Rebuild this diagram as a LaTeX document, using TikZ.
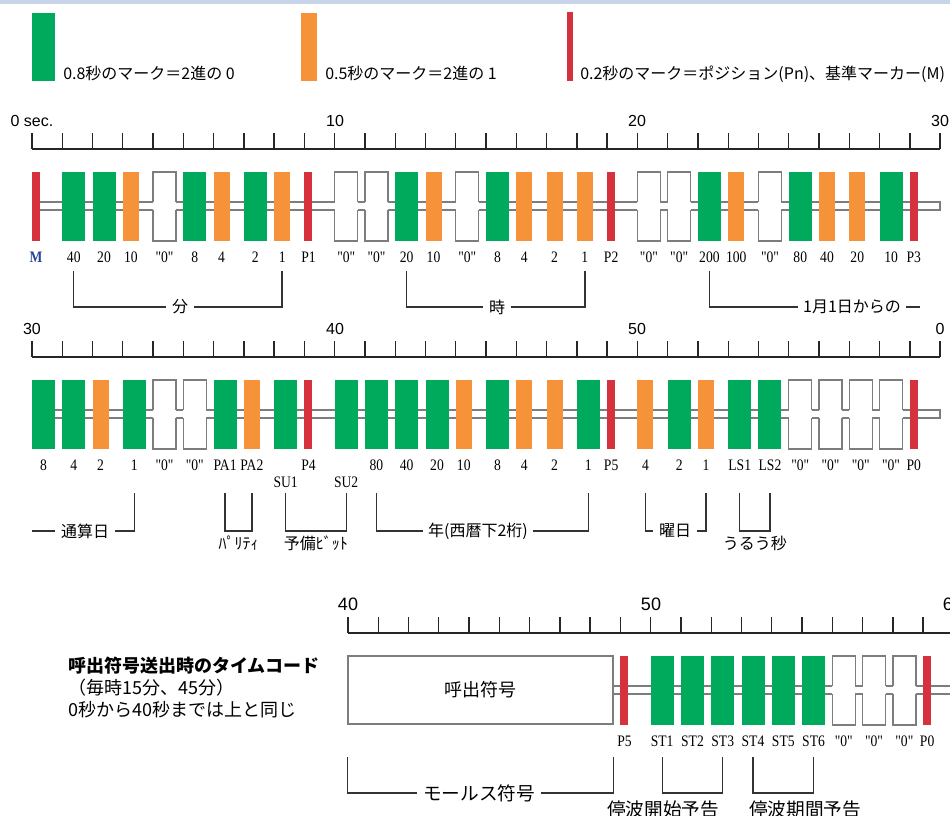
\documentclass[tikz,border=0pt]{standalone}
\usepackage{fontspec}
\setmainfont{Noto Sans CJK JP}
\newfontfamily\lblfont[FakeStretch=0.85]{Liberation Serif}
\newfontfamily\numfont{Liberation Sans}

\definecolor{bitgreen}{RGB}{0,170,92}
\definecolor{bitorange}{RGB}{246,146,58}
\definecolor{bitred}{RGB}{214,50,62}
\definecolor{bandgray}{RGB}{125,125,125}
\definecolor{topblue}{RGB}{200,212,234}
\definecolor{mblue}{RGB}{40,68,150}

\newcommand{\secpx}{30.27}
\newcommand{\mlab}{\textcolor{mblue}{\bfseries M}}

\tikzset{
  lbl/.style={font=\lblfont\fontsize{12}{14}\selectfont, inner sep=0pt},
  rlbl/.style={font=\numfont\fontsize{12}{14}\selectfont, inner sep=0pt},
  rlblbig/.style={font=\numfont\fontsize{13.5}{16}\selectfont, inner sep=0pt},
  ruler/.style={draw=black!85, line width=1pt},
  band/.style={draw=bandgray, line width=1pt},
  brkline/.style={draw=black!80, line width=1pt},
  leg/.style={anchor=base west, inner sep=0pt, font=\fontsize{12}{14}\selectfont},
  brk/.style={fill=white, inner xsep=4pt, inner ysep=1pt, font=\fontsize{12}{14}\selectfont},
  brkbig/.style={brk, font=\fontsize{14}{17}\selectfont},
  undertxt/.style={inner sep=0pt, font=\fontsize{12}{14}\selectfont},
  undertxtbig/.style={inner sep=0pt, font=\fontsize{14}{17}\selectfont},
  sidetxt/.style={anchor=base west, inner sep=0pt, font=\fontsize{13.5}{16}\selectfont},
  csbox/.style={draw=bandgray, line width=1pt, minimum width=198.75pt, minimum height=51pt,
    inner sep=0pt, font=\fontsize{13.5}{16}\selectfont},
  pics/bitg/.style={code={
    \fill[bitgreen] (0,0) rectangle (23,69);
    \node[lbl] (-l) at (11.5,85) {#1};
  }},
  pics/bits/.style={code={
    \fill[bitgreen] (0,0) rectangle (23,69);
    \node[lbl] (-l) at (11.5,102) {#1};
  }},
  pics/bito/.style={code={
    \fill[bitorange] (0,0) rectangle (16,69);
    \node[lbl] (-l) at (8,85) {#1};
  }},
  pics/bitr/.style={code={
    \fill[bitred] (0,0) rectangle (8,69);
    \node[lbl] (-l) at (4,85) {#1};
  }},
  pics/bitw/.style={code={
    \fill[white] (0,0) rectangle (23,69);
    \draw[band] (0,30) |- (23,0) -- (23,30);
    \draw[band] (0,38) |- (23,69) -- (23,38);
    \node[lbl] (-l) at (11.5,85) {#1};
  }},
}

\begin{document}
\begin{tikzpicture}[x=0.75pt,y=-0.75pt]
    \useasboundingbox (0,0) rectangle (950,816);
    \clip (0,0) rectangle (950,816);
    \fill[topblue] (0,0) rectangle (950,4);

    % legend
    \fill[bitgreen] (32,13) rectangle (54.5,81);
    \node[leg] (legzero) at (63,80) {0.8秒のマーク＝2進の 0};
    \fill[bitorange] (301,13) rectangle (317,81);
    \node[leg] (legone) at (325,80) {0.5秒のマーク＝2進の 1};
    \fill[bitred] (567,12) rectangle (573,81);
    \node[leg] (legpos) at (580,80) {0.2秒のマーク＝ポジション(Pn)、基準マーカー(M)};

    % 0 - 29 sec
    \draw[ruler] (32,149) -- (940,149);
    \foreach \i in {0,...,30} \draw[ruler] ({32+\i*\secpx},133) -- ++(0,16);
    \node[rlbl] (r1t0) at (32,121) {0 sec.};
    \node[rlbl] (r1t10) at (335,121) {10};
    \node[rlbl] (r1t20) at (637,121) {20};
    \node[rlbl] (r1t30) at (940,121) {30};
    \draw[band] (32,202) -- (940,202) -- (940,210) -- (32,210);
    \foreach \typ/\lab [count=\s from 0] in {r/\mlab, g/40, g/20, o/10, w/"0", g/8, o/4, g/2, o/1, r/P1,
        w/"0", w/"0", g/20, o/10, w/"0", g/8, o/4, o/2, o/1, r/P2,
        w/"0", w/"0", g/200, o/100, w/"0", g/80, o/40, o/20, g/10, r/P3}
        \pic (r1m\s) at ({32+\s*\secpx},172) {bit\typ=\lab};

    \node[brk] (minute) at (180,307) {分};
    \draw[brkline] (r1m1-l |- 0,271) |- (minute.west);
    \draw[brkline] (minute.east) -| (r1m8-l |- 0,271);
    \node[brk] (hour) at (497,307) {時};
    \draw[brkline] (r1m12-l |- 0,271) |- (hour.west);
    \draw[brkline] (hour.east) -| (r1m18-l |- 0,271);
    \node[brk] (fromjan) at (852,307) {1月1日からの};
    \coordinate (dayend) at (920,307);
    \draw[brkline] (r1m22-l |- 0,271) |- (fromjan.west);
    \draw[brkline] (fromjan.east) -- (dayend);

    % 30 - 59 sec
    \draw[ruler] (32,357) -- (940,357);
    \foreach \i in {0,...,30} \draw[ruler] ({32+\i*\secpx},341) -- ++(0,16);
    \node[rlbl] (r2t30) at (32,329) {30};
    \node[rlbl] (r2t40) at (335,329) {40};
    \node[rlbl] (r2t50) at (637,329) {50};
    \node[rlbl] (r2t0) at (940,329) {0};
    \draw[band] (32,410) -- (940,410) -- (940,418) -- (32,418);
    \foreach \typ/\lab [count=\s from 30] in {g/8, g/4, o/2, g/1, w/"0", w/"0", g/PA1, o/PA2, s/SU1, r/P4,
        s/SU2, g/80, g/40, g/20, o/10, g/8, o/4, o/2, g/1, r/P5,
        o/4, g/2, o/1, g/LS1, g/LS2, w/"0", w/"0", w/"0", w/"0", r/P0}
        \pic (r2m\s) at ({32+(\s-30)*\secpx},380) {bit\typ=\lab};

    \coordinate (daystart) at (32,531);
    \node[brk] (daytotal) at (85,531) {通算日};
    \draw[brkline] (daystart) -- (daytotal.west);
    \draw[brkline] (daytotal.east) -| (r2m33-l |- 0,493);
    \draw[brkline] (r2m36-l |- 0,493) -- (r2m36-l |- 0,531)
        -| node[pos=.25, below=3pt, undertxt] (parity) {ﾊﾟﾘﾃｨ} (r2m37-l |- 0,493);
    \draw[brkline] (r2m38-l |- 0,493) -- (r2m38-l |- 0,531)
        -| node[pos=.25, below=3pt, undertxt] (spare) {予備ﾋﾞｯﾄ} (r2m40-l |- 0,493);
    \node[brk] (year) at (478,531) {年(西暦下2桁)};
    \draw[brkline] (r2m41-l |- 0,493) |- (year.west);
    \draw[brkline] (year.east) -| (r2m48-l |- 0,493);
    \node[brk] (wday) at (675,531) {曜日};
    \draw[brkline] (r2m50-l |- 0,493) |- (wday.west);
    \draw[brkline] (wday.east) -| (r2m52-l |- 0,493);
    \draw[brkline] (r2m53-l |- 0,493) -- (r2m53-l |- 0,531)
        -| node[pos=.25, below=3pt, undertxt] (leap) {うるう秒} (r2m54-l |- 0,493);

    % call sign minutes
    \node[sidetxt, font=\bfseries\fontsize{13.5}{16}\selectfont] (cshead) at (68,672) {呼出符号送出時のタイムコード};
    \node[sidetxt] (csnote) at (68,694) {（毎時15分、45分）};
    \node[sidetxt] (cssame) at (68,716) {0秒から40秒までは上と同じ};

    \draw[ruler] (348,633) -- (960,633);
    \foreach \i in {0,...,20} \draw[ruler] ({348+\i*\secpx},617) -- ++(0,16);
    \node[rlblbig] (r3t40) at (348,604) {40};
    \node[rlblbig] (r3t50) at (651,604) {50};
    \node[rlblbig] (r3t60) at (953,604) {60};
    \node[csbox] (callsign) at (480.5,690) {呼出符号};
    \draw[band] ([yshift=3pt]callsign.east) -- ++(350,0);
    \draw[band] ([yshift=-3pt]callsign.east) -- ++(350,0);
    \foreach \typ/\lab [count=\s from 49] in {r/P5, g/ST1, g/ST2, g/ST3, g/ST4, g/ST5, g/ST6,
        w/"0", w/"0", w/"0", r/P0}
        \pic (r3m\s) at ({348+(\s-40)*\secpx},656) {bit\typ=\lab};

    \node[brkbig] (morse) at (479,793) {モールス符号};
    \draw[brkline] (callsign.west |- 0,757) |- (morse.west);
    \draw[brkline] (morse.east) -| (callsign.east |- 0,757);
    \draw[brkline] (r3m50-l |- 0,757) -- (r3m50-l |- 0,793) -| (r3m52-l |- 0,757);
    \node[undertxtbig] (stopstart) at (663,809) {停波開始予告};
    \draw[brkline] (r3m53-l |- 0,757) -- (r3m53-l |- 0,793) -| (r3m55-l |- 0,757);
    \node[undertxtbig] (stopterm) at (805,809) {停波期間予告};
\end{tikzpicture}
\end{document}
